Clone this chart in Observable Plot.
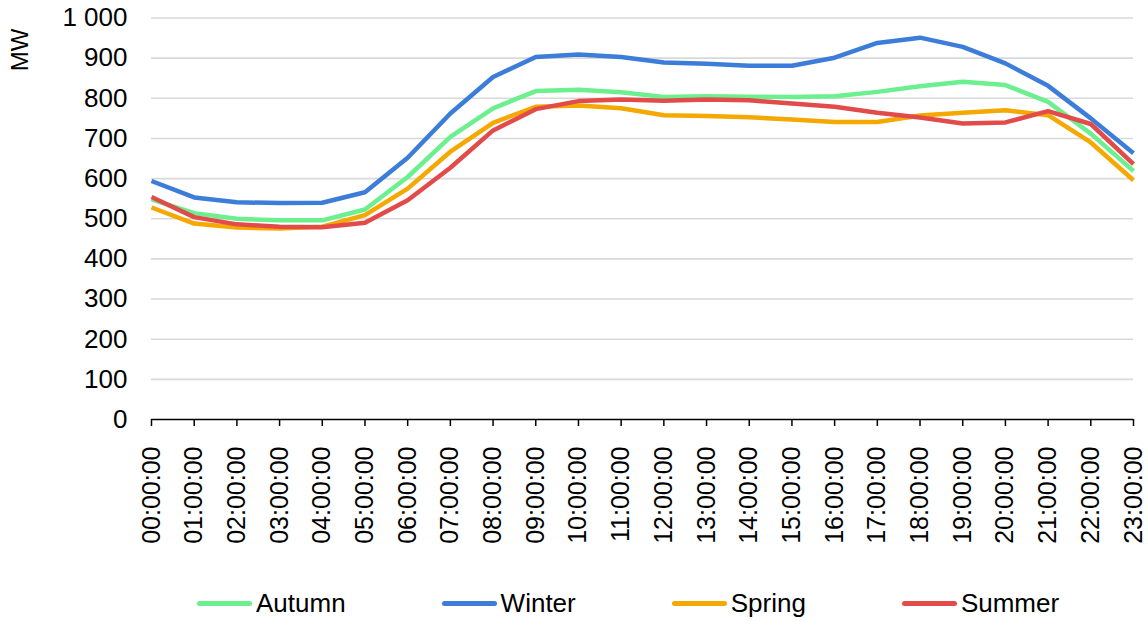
<!DOCTYPE html>
<html>
<head>
<meta charset="utf-8">
<script src="https://cdn.jsdelivr.net/npm/d3@7"></script>
<script src="https://cdn.jsdelivr.net/npm/@observablehq/plot@0.6"></script>
<style>
  html, body { margin: 0; padding: 0; background: #fff; }
  body { width: 1148px; height: 621px; position: relative; overflow: hidden;
         font-family: "Liberation Sans", Arial, sans-serif; }
  #ylabel { position: absolute; left: 20px; top: 50px; transform: translate(-50%, -50%) rotate(-90deg);
            font-size: 24px; color: #000; white-space: nowrap; }
  #legend { position: absolute; top: 588px; left: 197px; height: 30px; display: flex; align-items: center; gap: 96px;
            font-size: 26px; color: #000; }
  .item { display: flex; align-items: center; gap: 4px; }
  .swatch { width: 55px; height: 5px; border-radius: 2.5px; }
</style>
</head>
<body>
<div id="chart"></div>
<div id="ylabel">MW</div>
<div id="legend"></div>
<script>
const hours = ["00:00:00","01:00:00","02:00:00","03:00:00","04:00:00","05:00:00","06:00:00","07:00:00",
  "08:00:00","09:00:00","10:00:00","11:00:00","12:00:00","13:00:00","14:00:00","15:00:00",
  "16:00:00","17:00:00","18:00:00","19:00:00","20:00:00","21:00:00","22:00:00","23:00:00"];
const seriesNames = ["Autumn", "Winter", "Spring", "Summer"];
const seriesColors = ["#6cf08f", "#3b7dd8", "#f4a800", "#e34b4b"];
const autumn = [548, 514, 500, 496, 496, 523, 604, 704, 775, 818, 821, 815, 803, 805, 804, 803, 805, 816, 830, 841, 833, 791, 712, 619];
const winter = [594, 553, 541, 539, 540, 566, 652, 762, 853, 903, 909, 903, 889, 886, 881, 881, 901, 938, 951, 928, 887, 831, 750, 663];
const spring = [528, 488, 478, 476, 480, 509, 575, 667, 739, 779, 782, 775, 758, 756, 753, 747, 741, 741, 757, 764, 770, 758, 690, 596];
const summer = [554, 504, 486, 480, 479, 490, 546, 627, 720, 773, 793, 797, 794, 797, 795, 787, 779, 764, 752, 737, 740, 768, 736, 636];
const yTicks = [0, 100, 200, 300, 400, 500, 600, 700, 800, 900, 1000];

const valuesBySeries = [autumn, winter, spring, summer];
const data = [];
seriesNames.forEach((s, i) => hours.forEach((h, j) => data.push({season: s, hour: j, value: valuesBySeries[i][j]})));
const hourIdx = hours.map((h, j) => j);

const fmt = d3.formatLocale({decimal: ",", thousands: " ", grouping: [3], currency: ["", ""]}).format(",d");

const chart = Plot.plot({
  width: 1148,
  height: 560,
  marginLeft: 151,
  marginRight: 15,
  marginTop: 17.5,
  marginBottom: 141,
  style: {fontFamily: "'Liberation Sans', Arial, sans-serif", fontSize: "26px", color: "#000", background: "#fff"},
  x: {type: "linear", domain: [0, hours.length - 1], label: null},
  y: {domain: [0, 1000], label: null},
  color: {domain: seriesNames, range: seriesColors},
  marks: [
    Plot.ruleY(yTicks.filter(d => d > 0), {stroke: "#d9d9d9", strokeWidth: 1.6}),
    Plot.axisY({ticks: yTicks, tickSize: 0, tickPadding: 24, tickFormat: fmt, label: null}),
    Plot.ruleY([0], {stroke: "#000", strokeWidth: 1.5}),
    Plot.axisX({ticks: hourIdx, tickFormat: i => hours[i], tickSize: 7, tickPadding: 20, tickRotate: -90, label: null, stroke: "#000", strokeWidth: 1.5, fontSize: 25}),
    Plot.line(data, {x: "hour", y: "value", z: "season", stroke: "season", strokeWidth: 4.5, strokeLinejoin: "round", strokeLinecap: "butt"})
  ]
});
document.getElementById("chart").appendChild(chart);

const legend = document.getElementById("legend");
seriesNames.forEach((s, i) => {
  const item = document.createElement("div");
  item.className = "item";
  const sw = document.createElement("div");
  sw.className = "swatch";
  sw.style.background = seriesColors[i];
  const t = document.createElement("span");
  t.textContent = s;
  item.appendChild(sw); item.appendChild(t);
  legend.appendChild(item);
});
</script>
</body>
</html>
